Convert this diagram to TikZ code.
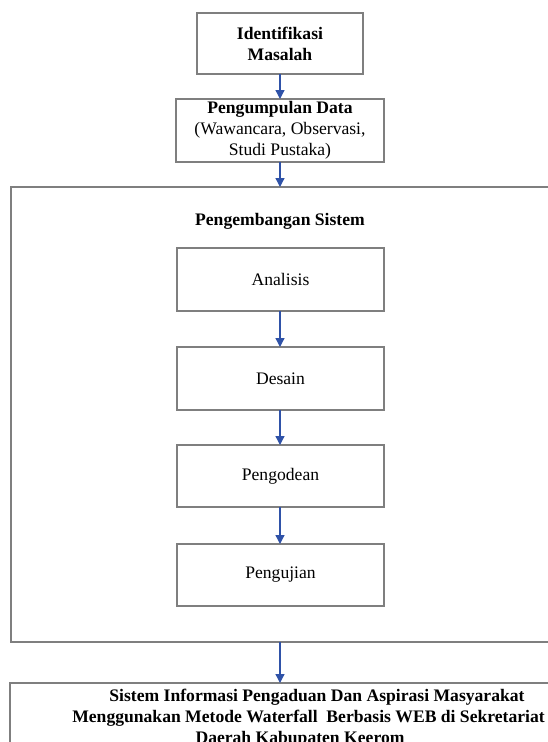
\documentclass[tikz,border=0pt]{standalone}
\usepackage{fontspec}
\setmainfont{Liberation Serif}
\usetikzlibrary{arrows.meta}
\definecolor{edgegray}{HTML}{7F7F7F}
\definecolor{arrowblue}{HTML}{2F52A8}
\begin{document}
\begin{tikzpicture}[x=1pt,y=-1pt,
  box/.style={draw=edgegray,line width=1.3pt,fill=white},
  txt/.style={font=\fontsize{17.6}{21}\selectfont,align=center,inner sep=0pt},
  btxt/.style={font=\fontsize{17.6}{21}\selectfont\bfseries,align=center,inner sep=0pt},
  flow/.style={draw=arrowblue,line width=1.3pt,-{Triangle[width=9pt,length=9pt]}}]
\useasboundingbox (0,0) rectangle (548,742);
\begin{scope}
\clip (0,0) rectangle (548,742);
% outer boxes
\draw[box] (11,187) rectangle (570,642);
\draw[box] (10,683) rectangle (570,770);
% top boxes
\draw[box] (197,13) rectangle (363,74);
\coordinate (b1t) at (280,13); \coordinate (b1b) at (280,74);
\draw[box] (176,99) rectangle (384,162);
\coordinate (b2t) at (280,99); \coordinate (b2b) at (280,162);
\coordinate (bigt) at (280,187); \coordinate (bigb) at (280,642);
\coordinate (bott) at (280,683);
% inner boxes
\draw[box] (177,248) rectangle (384,311);
\draw[box] (177,347) rectangle (384,410);
\draw[box] (177,445) rectangle (384,507);
\draw[box] (177,544) rectangle (384,606);
\coordinate (anb) at (280,311);
\coordinate (det) at (280,347); \coordinate (deb) at (280,410);
\coordinate (pgt) at (280,445); \coordinate (pgb) at (280,507);
\coordinate (pjt) at (280,544);
% texts
\node[btxt] (t1) at (280,43.5) {Identifikasi\\Masalah};
\node[txt] (t2) at (280,130) {\textbf{Pengumpulan Data}\\(Wawancara, Observasi,\\Studi Pustaka)};
\node[btxt] (t3) at (280,221) {Pengembangan Sistem};
\node[txt] (t4) at (280.5,279.5) {Analisis};
\node[txt] (t5) at (280.5,378.5) {Desain};
\node[txt] (t6) at (280.5,476) {Pengodean};
\node[txt] (t7) at (280.5,575) {Pengujian};
\node[btxt] (t8a) at (317,697) {Sistem Informasi Pengaduan Dan Aspirasi Masyarakat};
\node[btxt] (t8b) at (308.5,718) {Menggunakan Metode Waterfall\ \ Berbasis WEB di Sekretariat};
\node[btxt] (t8c) at (300,739) {Daerah Kabupaten Keerom};
% arrows
\draw[flow] (b1b) -- (b2t);
\draw[flow] (b2b) -- (bigt);
\draw[flow] (anb) -- (det);
\draw[flow] (deb) -- (pgt);
\draw[flow] (pgb) -- (pjt);
\draw[flow] (bigb) -- (bott);
\end{scope}
\end{tikzpicture}
\end{document}
